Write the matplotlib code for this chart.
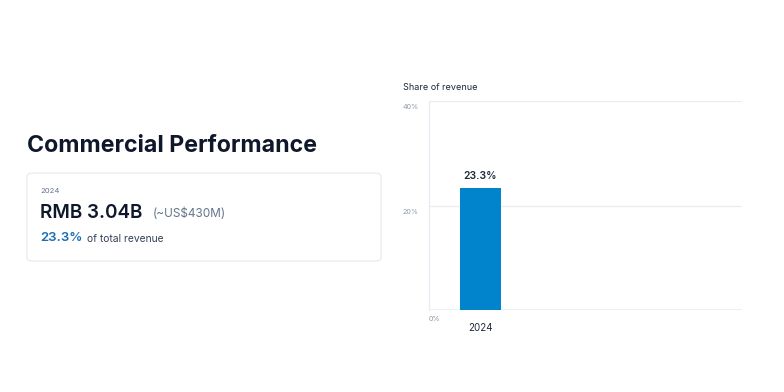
import matplotlib
matplotlib.use('Agg')
import matplotlib.pyplot as plt
from matplotlib.patches import FancyBboxPatch

plt.rcParams['font.family'] = ['Inter', 'DejaVu Sans']

# data
years = ['2024']
share = [23.3]
y_ticks = [0, 20, 40]
y_tick_labels = ['0%', '20%', '40%']
revenue_rmb = 'RMB 3.04B'
revenue_usd = '(~US$430M)'

W, H = 784, 392
DARK = '#0f172a'
GREY = '#64748b'
BLUE = '#0284cd'
TXT_BLUE = '#1b6db6'
GRID = '#e9ecf3'

def px(x, y):
    return x / W, 1 - y / H

fig = plt.figure(figsize=(W / 100, H / 100), dpi=100)
fig.patch.set_facecolor('white')

# left panel
fig.text(*px(27, 146), 'Commercial Performance', fontsize=16.7, fontweight='bold',
         color=DARK, va='center', ha='left')

card = FancyBboxPatch(px(27, 261), 354 / W, 88 / H,
                      boxstyle='round,pad=0,rounding_size=0.008',
                      transform=fig.transFigure, facecolor='white',
                      edgecolor='#e5e7eb', linewidth=0.8)
fig.patches.append(card)

fig.text(*px(40, 191), years[0], fontsize=5.5, color=GREY, va='center')
fig.text(*px(40, 213), revenue_rmb, fontsize=13.6, fontweight='semibold',
         color=DARK, va='center')
fig.text(*px(153, 214), revenue_usd, fontsize=8.5, color=GREY, va='center')
fig.text(*px(40, 238), f'{share[0]}%', fontsize=9.5, fontweight='semibold',
         color=TXT_BLUE, va='center')
fig.text(*px(87, 239), 'of total revenue', fontsize=7.4, color='#334155', va='center')

# chart
ax = fig.add_axes([429 / W, 82 / H, 313 / W, 209 / H])
ax.bar(range(len(share)), share, width=0.4, color=BLUE, zorder=3)
ax.set_xlim(-0.5, 2.55)
ax.set_ylim(0, 40)
for s in ['top', 'right', 'bottom']:
    ax.spines[s].set_visible(False)
ax.spines['left'].set_color(GRID)
ax.spines['left'].set_linewidth(1)
ax.set_xticks([])
ax.set_yticks([])
for t in y_ticks:
    ax.axhline(t, color=GRID, linewidth=0.9 if t else 1.2, zorder=1)
for t, lab in zip(y_ticks, y_tick_labels):
    if t == 0:
        ax.text(-0.5, t - 1.2, lab, fontsize=5.2, color='#8f99aa', ha='left', va='top')
    else:
        ax.text(-0.6, t - 0.6, lab, fontsize=5.2, color='#8f99aa', ha='right', va='top')
for i, v in enumerate(share):
    ax.text(i, v + 1.4, f'{v}%', fontsize=7.5, fontweight='semibold', color='#1e293b',
            ha='center', va='bottom')
    ax.text(i, -2.4, years[i], fontsize=7, color='#1e293b', ha='center', va='top')

fig.text(*px(403, 88), 'Share of revenue', fontsize=6.5, color='#1e293b', va='center')

fig.savefig('out.png', dpi=100, facecolor='white')
